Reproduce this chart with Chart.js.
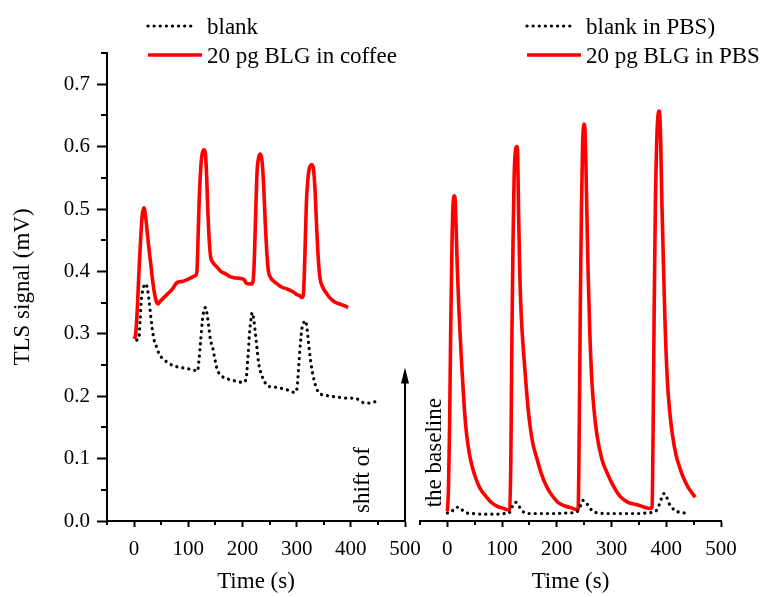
<!DOCTYPE html>
<html>
<head>
<meta charset="utf-8">
<script src="https://cdn.jsdelivr.net/npm/chart.js@4.4.1/dist/chart.umd.min.js"></script>
<style>
  html, body { margin: 0; padding: 0; background: #fff; }
  #wrap { position: relative; width: 762px; height: 597px; }
  #wrap canvas { position: absolute; left: 0; top: 0; }
</style>
</head>
<body>
<div id="wrap">
  <canvas id="coffeePanel" width="762" height="597"></canvas>
  <canvas id="pbsPanel" width="762" height="597"></canvas>
</div>
<script>
// ---- Coffee matrix (left panel) ----
const coffeeTime = [0,3,6,9,12,15,18,21,24,27,31,35,40,44,48,55,62,71,79,89,101,110,114,116,118,120,122,125,129,132,134,136,138,141,145,154,160,169,176,184,192,200,204,206,212,218,221,223,225,227,230,233,236,239,242,245,248,252,258,264,272,282,294,300,306,309,312,314,316,318,321,324,328,331,334,337,340,343,348,355,361,367,375,382,388,395];
const coffeeSignal = [0.292,0.300,0.340,0.400,0.450,0.490,0.502,0.490,0.465,0.440,0.410,0.380,0.355,0.348,0.352,0.358,0.364,0.372,0.382,0.384,0.388,0.392,0.394,0.400,0.450,0.510,0.550,0.585,0.595,0.585,0.550,0.500,0.460,0.425,0.415,0.406,0.400,0.396,0.392,0.390,0.389,0.388,0.386,0.382,0.380,0.380,0.400,0.450,0.510,0.560,0.583,0.588,0.578,0.540,0.480,0.430,0.400,0.390,0.384,0.380,0.375,0.372,0.367,0.363,0.361,0.358,0.360,0.390,0.450,0.510,0.550,0.567,0.571,0.565,0.530,0.470,0.420,0.390,0.375,0.365,0.358,0.353,0.349,0.347,0.345,0.342];
const coffeeBlankTime = [5,9,11,13,16,19,22,25,28,31,34,37,41,46,53,62,72,86,99,110,117,120,123,126,129,132,135,138,141,145,149,154,160,165,175,184,193,202,207,210,213,216,218,221,224,227,230,235,240,245,255,270,283,297,301,304,307,310,313,316,319,322,326,331,337,343,352,361,370,380,390,400,411,418,426,433,440,448];
const coffeeBlankSignal = [0.290,0.294,0.320,0.350,0.370,0.378,0.380,0.370,0.350,0.326,0.305,0.290,0.280,0.268,0.260,0.254,0.249,0.246,0.244,0.242,0.240,0.260,0.290,0.320,0.338,0.342,0.330,0.310,0.290,0.278,0.260,0.241,0.235,0.230,0.227,0.225,0.223,0.222,0.230,0.260,0.300,0.325,0.334,0.322,0.300,0.275,0.252,0.235,0.225,0.217,0.215,0.213,0.210,0.206,0.215,0.250,0.285,0.310,0.318,0.321,0.310,0.285,0.255,0.230,0.212,0.204,0.202,0.200,0.199,0.198,0.197,0.197,0.196,0.192,0.189,0.189,0.190,0.192];

// ---- PBS buffer (right panel) ----
const pbsTime = [0,2,4,6,8,10,13,14.5,16,18,21,26,31,35,40,46,53,60,71,80,92,100,110,114,116,118,120,122,124,127,128.5,130,132,135,141,145,150,156,163,172,182,192,202,215,226,237,239,241,243,245,247,250,251.5,253,255,257,260,264,268,273,282,292,304,316,330,347,360,371,374,376,378,380,383,387,388.5,390,392,395,398,402,406,411,418,426,433,440,447,453];
const pbsSignal = [0.016,0.050,0.150,0.300,0.420,0.500,0.521,0.510,0.470,0.410,0.340,0.253,0.180,0.140,0.109,0.085,0.066,0.052,0.039,0.030,0.023,0.021,0.018,0.019,0.100,0.300,0.450,0.550,0.590,0.600,0.588,0.500,0.410,0.330,0.250,0.205,0.160,0.125,0.102,0.075,0.054,0.040,0.030,0.024,0.021,0.018,0.020,0.150,0.350,0.500,0.600,0.636,0.625,0.580,0.490,0.406,0.310,0.225,0.178,0.140,0.100,0.077,0.055,0.039,0.030,0.026,0.022,0.020,0.022,0.150,0.350,0.500,0.620,0.657,0.645,0.600,0.510,0.406,0.310,0.225,0.178,0.140,0.105,0.082,0.066,0.054,0.045,0.038];
const pbsBlankTime = [0,5,11,16,22,28,35,45,60,75,90,105,113,117,121,125,130,135,140,150,165,180,200,220,235,240,244,248,253,258,265,275,290,310,330,350,365,375,383,388,392,396,400,404,410,417,425,433,438];
const pbsBlankSignal = [0.013,0.013,0.018,0.022,0.022,0.017,0.013,0.012,0.011,0.011,0.011,0.012,0.013,0.020,0.028,0.030,0.025,0.018,0.014,0.012,0.012,0.012,0.012,0.013,0.014,0.018,0.026,0.033,0.030,0.024,0.016,0.013,0.012,0.012,0.012,0.012,0.013,0.014,0.018,0.028,0.038,0.044,0.040,0.030,0.022,0.016,0.014,0.013,0.013];

// ---- Axis ticks ----
const timeTicks = [0, 100, 200, 300, 400, 500];
const signalTicks = [0, 0.1, 0.2, 0.3, 0.4, 0.5, 0.6, 0.7];

Chart.defaults.font.family = "'Liberation Serif', 'Times New Roman', serif";
Chart.defaults.color = '#000';

const FONT_TICK = 21;
const FONT_TEXT = 23;
const RED = '#ff0000';
const DOT_DASH = [0.1, 6];

const isMajor = (v, list) => list.some(m => Math.abs(m - v) < 1e-6);
const pairs = (xs, ys) => xs.map((x, i) => ({ x, y: ys[i] }));

function solidSet(label, xs, ys) {
  return { label, data: pairs(xs, ys), borderColor: RED, borderWidth: 3.6,
           pointRadius: 0, cubicInterpolationMode: 'monotone', fill: false };
}
function dottedSet(label, xs, ys) {
  return { label, data: pairs(xs, ys), borderColor: '#000', borderWidth: 3.2,
           borderDash: DOT_DASH, borderCapStyle: 'round',
           pointRadius: 0, cubicInterpolationMode: 'monotone', fill: false };
}

function timeAxis() {
  return {
    type: 'linear', min: -50, max: 500,
    ticks: { stepSize: 50, autoSkip: false, maxRotation: 0, font: { size: FONT_TICK }, padding: 10,
             callback: v => isMajor(v, timeTicks) ? String(v) : '' },
    grid: { drawOnChartArea: false, tickLength: 6, tickWidth: 2,
            tickColor: c => (c.tick && isMajor(c.tick.value, timeTicks)) ? '#000' : 'rgba(0,0,0,0)' },
    border: { display: true, color: '#000', width: 2 },
    title: { display: true, text: 'Time (s)', font: { size: FONT_TEXT }, padding: { top: 0, bottom: 1 } },
    afterFit: s => { s.height = 76; }
  };
}

function signalAxis(show) {
  const axis = {
    type: 'linear', min: 0, max: 0.75, display: show,
    ticks: { stepSize: 0.05, autoSkip: false, font: { size: FONT_TICK }, padding: 7,
             callback: v => isMajor(v, signalTicks) ? v.toFixed(1) : '' },
    grid: { drawOnChartArea: false, tickLength: 10, tickWidth: 2,
            tickColor: c => (c.tick && isMajor(c.tick.value, signalTicks)) ? '#000' : 'rgba(0,0,0,0)' },
    border: { display: true, color: '#000', width: 2 },
    title: { display: true, text: 'TLS signal (mV)', font: { size: FONT_TEXT }, padding: { top: 9, bottom: 0 } }
  };
  if (show) axis.afterFit = s => { s.width = 107; };
  return axis;
}

// Short minor tick marks between the labelled ones
const minorTicks = {
  id: 'minorTicks',
  afterDraw(chart) {
    const ctx = chart.ctx;
    ctx.save();
    ctx.strokeStyle = '#000';
    ctx.lineWidth = 2;
    const xs = chart.scales.x;
    xs.ticks.forEach(t => {
      if (isMajor(t.value, timeTicks)) return;
      const px = Math.round(xs.getPixelForValue(t.value));
      ctx.beginPath(); ctx.moveTo(px, xs.top); ctx.lineTo(px, xs.top + 4); ctx.stroke();
    });
    const ys = chart.scales.y;
    if (ys.options.display) {
      ys.ticks.forEach(t => {
        if (isMajor(t.value, signalTicks)) return;
        const py = Math.round(ys.getPixelForValue(t.value));
        ctx.beginPath(); ctx.moveTo(ys.right - 6, py); ctx.lineTo(ys.right, py); ctx.stroke();
      });
    }
    ctx.restore();
  }
};

// Two-row legend drawn from the datasets themselves
const panelLegend = {
  id: 'panelLegend',
  afterDraw(chart, args, o) {
    const ctx = chart.ctx;
    ctx.save();
    chart.data.datasets.forEach((ds, i) => {
      const y = o.rows[i];
      ctx.beginPath();
      ctx.strokeStyle = ds.borderColor;
      ctx.lineWidth = ds.borderWidth;
      ctx.lineCap = ds.borderDash ? 'round' : 'butt';
      ctx.setLineDash(ds.borderDash || []);
      ctx.moveTo(o.lineX, y - 8);
      ctx.lineTo(o.lineX + (ds.borderDash ? o.dotLen : o.lineLen), y - 8);
      ctx.stroke();
      ctx.setLineDash([]);
      ctx.fillStyle = '#000';
      ctx.font = FONT_TEXT + "px 'Liberation Serif', serif";
      ctx.textBaseline = 'alphabetic';
      ctx.textAlign = 'left';
      ctx.fillText(ds.label, o.textX, y);
    });
    ctx.restore();
  }
};

// Vertical notes and the baseline-shift arrow
const baselineNote = {
  id: 'baselineNote',
  afterDraw(chart, args, o) {
    const ctx = chart.ctx, xs = chart.scales.x, ys = chart.scales.y;
    ctx.save();
    ctx.fillStyle = '#000';
    ctx.strokeStyle = '#000';
    if (o.arrow) {
      const ax = xs.getPixelForValue(o.arrow.x);
      const y0 = ys.getPixelForValue(o.arrow.from);
      const y1 = ys.getPixelForValue(o.arrow.to);
      ctx.lineWidth = 2;
      ctx.beginPath(); ctx.moveTo(ax, y0); ctx.lineTo(ax, y1 + 12); ctx.stroke();
      ctx.beginPath(); ctx.moveTo(ax, y1); ctx.lineTo(ax - 4, y1 + 16); ctx.lineTo(ax + 4, y1 + 16); ctx.closePath(); ctx.fill();
    }
    ctx.font = FONT_TEXT + "px 'Liberation Serif', serif";
    ctx.textAlign = 'left';
    ctx.textBaseline = 'alphabetic';
    ctx.translate(xs.getPixelForValue(o.text.x), ys.getPixelForValue(o.text.y));
    ctx.rotate(-Math.PI / 2);
    ctx.fillText(o.text.label, 0, 0);
    ctx.restore();
  }
};

function panel(id, datasets, padLeft, padRight, showY, legendOpts, noteOpts) {
  return new Chart(document.getElementById(id), {
    type: 'line',
    data: { datasets },
    options: {
      responsive: false, animation: false, devicePixelRatio: 1, events: [],
      layout: { padding: { left: padLeft, right: padRight, top: 53, bottom: 0 } },
      scales: { x: timeAxis(), y: signalAxis(showY) },
      plugins: { legend: { display: false }, tooltip: { enabled: false },
                 panelLegend: legendOpts, baselineNote: noteOpts }
    },
    plugins: [minorTicks, panelLegend, baselineNote]
  });
}

panel('coffeePanel',
  [dottedSet('blank', coffeeBlankTime, coffeeBlankSignal),
   solidSet('20 pg BLG in coffee', coffeeTime, coffeeSignal)],
  0, 357, true,
  { lineX: 148, lineLen: 54, dotLen: 46, textX: 207, rows: [34, 63] },
  { arrow: { x: 500, from: 0, to: 0.246 }, text: { x: 433, y: 0.013, label: 'shift of' } });

panel('pbsPanel',
  [dottedSet('blank in PBS)', pbsBlankTime, pbsBlankSignal),
   solidSet('20 pg BLG in PBS', pbsTime, pbsSignal)],
  420, 41, false,
  { lineX: 527, lineLen: 54, dotLen: 46, textX: 586, rows: [34, 63] },
  { text: { x: -11, y: 0.022, label: 'the baseline' } });
</script>
</body>
</html>
